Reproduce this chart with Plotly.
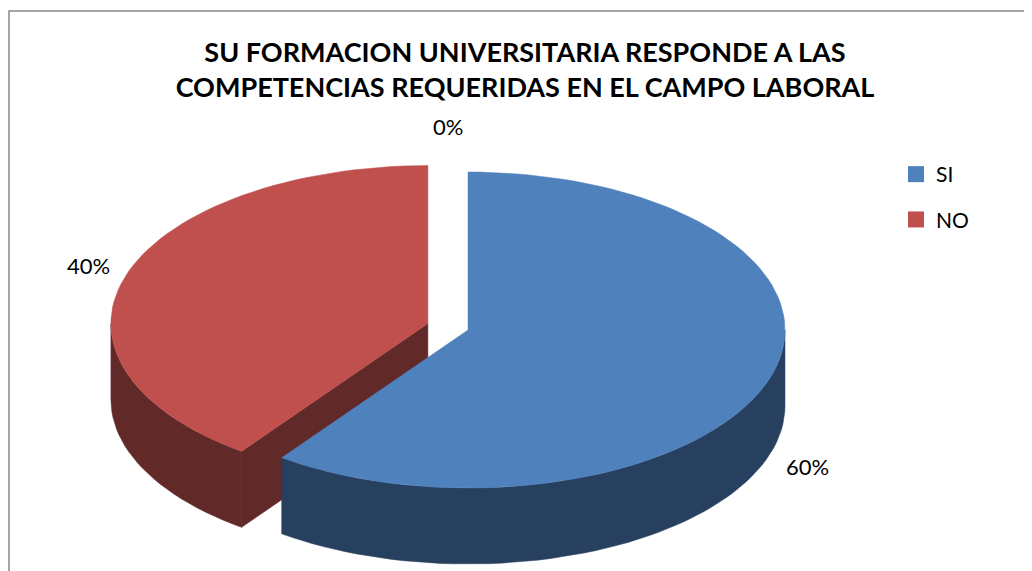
import numpy as np
import plotly.graph_objects as go

# ---- data ----
categories = ["SI", "NO", ""]
values = [60, 40, 0]
top_colors = ["#4F81BD", "#C0504D", "#9BBB59"]
side_colors = ["#28405F", "#612928", "#4D5D2C"]
title_lines = ["SU FORMACION UNIVERSITARIA RESPONDE A LAS",
               "COMPETENCIAS REQUERIDAS EN EL CAMPO LABORAL"]

W, H = 1032, 571
OFF = 8               # page body margin; data coords == page pixels
CX, CY = 468, 330     # pie centre (pixels)
RX, RY = 317, 158     # ellipse radii
DEPTH = 76            # extrusion depth
EXPLODE = [0.0, 0.133, 0.0]

total = float(sum(values))
fracs = [v / total for v in values]
starts = np.cumsum([0] + fracs[:-1]) * 360.0
ends = starts + np.array(fracs) * 360.0


def pt(cx, cy, th, dz=0.0):
    r = np.radians(th)
    return cx + RX * np.sin(r), cy - RY * np.cos(r) + dz


def arc(cx, cy, t0, t1, dz=0.0, n=160):
    ts = np.linspace(t0, t1, max(2, int(n * abs(t1 - t0) / 360) + 2))
    r = np.radians(ts)
    return list(cx + RX * np.sin(r)), list(cy - RY * np.cos(r) + dz)


def poly(x, y, color):
    return go.Scatter(x=x, y=y, mode="lines", fill="toself", fillcolor=color,
                      line=dict(color=color, width=0.5), hoverinfo="skip",
                      showlegend=False)


fig = go.Figure()

centres = []
for i in range(len(values)):
    mid = (starts[i] + ends[i]) / 2
    r = np.radians(mid)
    cx = CX + EXPLODE[i] * RX * np.sin(r)
    cy = CY - EXPLODE[i] * RY * np.cos(r)
    centres.append((cx, cy))

# draw order: back slice first (NO), then SI
order = [1, 0]
for i in order:
    if values[i] <= 0:
        continue
    cx, cy = centres[i]
    t0, t1 = starts[i], ends[i]
    if 180 < t0 % 360 < 360:
        px, py = pt(cx, cy, t0)
        fig.add_trace(poly([cx, px, px, cx, cx], [cy, py, py + DEPTH, cy + DEPTH, cy],
                           side_colors[i]))
    if 0 < t1 % 360 < 180:
        px, py = pt(cx, cy, t1)
        fig.add_trace(poly([cx, px, px, cx, cx], [cy, py, py + DEPTH, cy + DEPTH, cy],
                           side_colors[i]))
    a0, a1 = max(t0, 90), min(t1, 270)
    if a1 > a0:
        xt, yt = arc(cx, cy, a0, a1)
        xb, yb = arc(cx, cy, a0, a1, DEPTH)
        fig.add_trace(poly(xt + xb[::-1] + [xt[0]], yt + yb[::-1] + [yt[0]],
                           side_colors[i]))
    xa, ya = arc(cx, cy, t0, t1)
    fig.add_trace(poly([cx] + xa + [cx], [cy] + ya + [cy], top_colors[i]))

# data labels
annots = []
for i in range(len(values)):
    mid = (starts[i] + ends[i]) / 2
    if values[i] == 0:
        cx = (centres[0][0] + centres[1][0]) / 2
        cy = (centres[0][1] + centres[1][1]) / 2
    else:
        cx, cy = centres[i]
    r = np.radians(mid)
    sx, cs = np.sin(r), np.cos(r)
    lx = cx + RX * 1.02 * sx
    ly = cy - RY * 1.02 * cs + (DEPTH if cs < 0 else 0)
    if abs(sx) < 0.2:
        xa, xs = "center", 0
    elif sx > 0:
        xa, xs = "left", 8
    else:
        xa, xs = "right", -8
    if values[i] == 0:
        ya_, ys = "bottom", 24
    else:
        ya_, ys = "middle", (-11 if cs < 0 else 8)
    annots.append(dict(x=lx, y=ly, xref="x", yref="y", text=f"{values[i]}%",
                       showarrow=False, xanchor=xa, yanchor=ya_, xshift=xs, yshift=ys,
                       font=dict(family="Lato", size=22, color="#000000")))

# legend-only traces
for i in range(2):
    fig.add_trace(go.Scatter(
        x=[None], y=[None], mode="markers", name=categories[i],
        marker=dict(symbol="square", size=16, color=top_colors[i]),
        legendgroup=categories[i]))

fig.update_layout(
    width=W, height=H,
    margin=dict(l=0, r=0, t=0, b=0),
    paper_bgcolor="white", plot_bgcolor="white",
    xaxis=dict(range=[OFF, W + OFF], visible=False, fixedrange=True),
    yaxis=dict(range=[H + OFF, OFF], visible=False, fixedrange=True),
    title=dict(text="<b>" + "<br>".join(title_lines) + "</b>",
               x=(525 - OFF) / W, xanchor="center", y=1 - (62 - OFF) / H, yanchor="top",
               font=dict(family="Lato", size=27, color="#000000")),
    legend=dict(x=(896 - OFF) / W, y=1 - (154 - OFF) / H, xanchor="left", yanchor="top",
                font=dict(family="Lato", size=21, color="#000000"),
                tracegroupgap=15, bgcolor="rgba(0,0,0,0)"),
    annotations=annots,
    shapes=[dict(type="rect", xref="x", yref="y", x0=9, y0=11, x1=W + 40, y1=H + 40,
                 line=dict(color="#868686", width=1.5), fillcolor="rgba(0,0,0,0)",
                 layer="above")],
    showlegend=True,
)

fig.write_html("out.html")
